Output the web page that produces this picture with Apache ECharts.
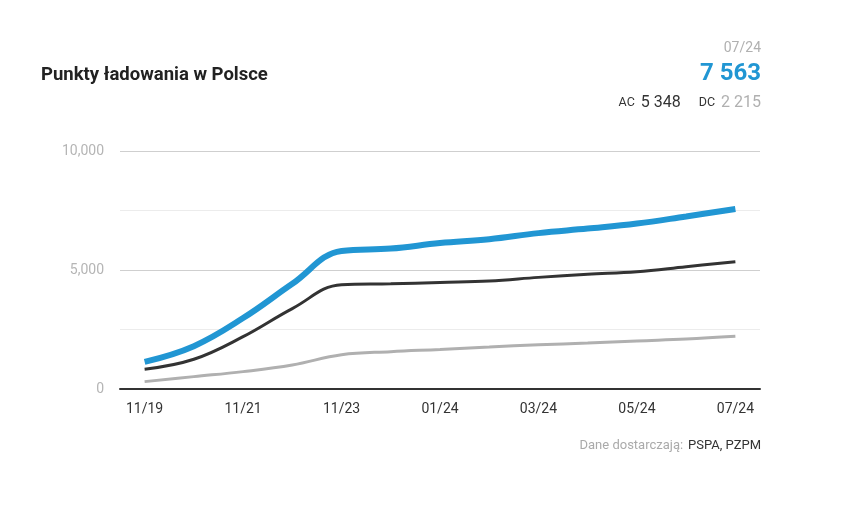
<!DOCTYPE html>
<html>
<head>
<meta charset="utf-8">
<script src="https://cdn.jsdelivr.net/npm/echarts@6/dist/echarts.min.js"></script>
<style>
html,body{margin:0;padding:0;background:#fff;}
#chart{width:843px;height:506px;}
</style>
</head>
<body>
<div id="chart"></div>
<script>
var categories = ['11/19','11/20','11/21','11/22','11/23','12/23','01/24','02/24','03/24','04/24','05/24','06/24','07/24'];
var totalValues = [1140, 1800, 2980, 4420, 5800, 5900, 6130, 6290, 6550, 6740, 6950, 7250, 7563];
var acValues    = [830, 1250, 2200, 3380, 4380, 4420, 4480, 4540, 4690, 4820, 4930, 5140, 5348];
var dcValues    = [310, 520, 730, 1010, 1440, 1570, 1660, 1760, 1860, 1930, 2020, 2100, 2215];
var yTickLabels = ['0','5,000','10,000'];

function fmt(v){ return String(v).replace(/\B(?=(\d{3})+(?!\d))/g, ' '); }
var last = categories.length - 1;
var F = 'Roboto, "Noto Sans", sans-serif';

var chart = echarts.init(document.getElementById('chart'), null, {renderer:'canvas'});
chart.setOption({
  animation:false,
  backgroundColor:'#fff',
  title:[
    {text:'Punkty ładowania w Polsce', left:41, top:66, padding:0,
     textStyle:{fontFamily:F, fontSize:18.5, fontWeight:'bold', color:'#222'}},
    {text:categories[last], right:82, top:41, padding:0,
     textStyle:{fontFamily:F, fontSize:14, fontWeight:'normal', color:'#b0b0b0'}},
    {text:fmt(totalValues[last]), right:82, top:62, padding:0,
     textStyle:{fontFamily:F, fontSize:24, fontWeight:'bold', color:'#2196d3'}},
    {text:'{l|AC}{s1|}{v|'+fmt(acValues[last])+'}{sp|}{l|DC}{s1|}{g|'+fmt(dcValues[last])+'}', right:82, top:94, padding:0,
     textStyle:{fontWeight:'normal', rich:{
       l:{fontFamily:F, fontSize:12.5, fontWeight:'normal', color:'#333'},
       v:{fontFamily:F, fontSize:16, fontWeight:'normal', color:'#333'},
       g:{fontFamily:F, fontSize:16, fontWeight:'normal', color:'#b0b0b0'},
       s1:{width:6},
       sp:{width:18}
     }}},
    {text:'{g|Dane dostarczają:} {d|PSPA, PZPM}', right:82, top:437, padding:0,
     textStyle:{fontWeight:'normal', rich:{
       g:{fontFamily:F, fontSize:13, fontWeight:'normal', color:'#aaa'},
       d:{fontFamily:F, fontSize:13, fontWeight:'normal', color:'#333'}
     }}}
  ],
  grid:{left:120, right:83, top:151, bottom:117},
  xAxis:{
    type:'category', data:categories, boundaryGap:true,
    axisLine:{lineStyle:{color:'#333', width:2}},
    axisTick:{show:false},
    axisLabel:{interval:1, color:'#333', fontFamily:F, fontSize:14, margin:13}
  },
  yAxis:{
    type:'value', min:0, max:10000, interval:2500,
    axisLine:{show:false}, axisTick:{show:false},
    axisLabel:{color:'#b5b5b5', fontFamily:F, fontSize:14, margin:16,
      formatter:function(v){ var m={0:yTickLabels[0],5000:yTickLabels[1],10000:yTickLabels[2]}; return m[v]!==undefined?m[v]:''; }},
    splitLine:{lineStyle:{color:['#cfcfcf','#ececec'], width:1}}
  },
  series:[
    {name:'DC', type:'line', data:dcValues, smooth:0.4, symbol:'none',
     lineStyle:{color:'#b0b0b0', width:3}},
    {name:'AC', type:'line', data:acValues, smooth:0.4, symbol:'none',
     lineStyle:{color:'#333', width:3}},
    {name:'Razem', type:'line', data:totalValues, smooth:0.4, symbol:'none',
     lineStyle:{color:'#2196d3', width:6}}
  ]
});
</script>
</body>
</html>
